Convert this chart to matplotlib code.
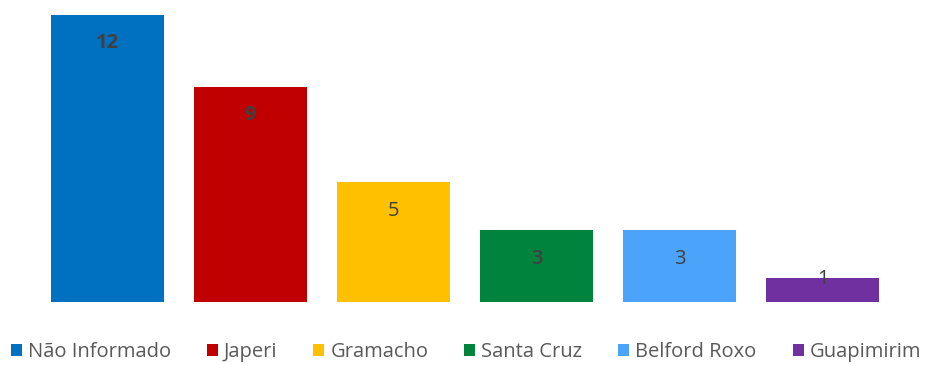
import matplotlib.pyplot as plt
from matplotlib.patches import Patch

plt.rcParams['font.family'] = ['Open Sans', 'DejaVu Sans']

bairros = ['Não Informado', 'Japeri', 'Gramacho', 'Santa Cruz', 'Belford Roxo', 'Guapimirim']
casos = [12, 9, 5, 3, 3, 1]
cores = ['#0070C0', '#C00000', '#FFC000', '#00843D', '#4BA3FA', '#7030A0']

fig = plt.figure(figsize=(9.32, 3.65), dpi=100)
ax = fig.add_axes([36 / 932, 63 / 365, 858 / 932, 287 / 365])

x = range(len(casos))
bars = ax.bar(x, casos, width=113 / 143, color=cores)
ax.set_xlim(-0.5, len(casos) - 0.5)
ax.set_ylim(0, 12)
ax.axis('off')

# rótulos dentro do topo de cada barra; na barra baixa fica sobre a borda
for i, (b, v) in enumerate(zip(bars, casos)):
    off = -20.5 if v >= 2 else -0.5
    peso = 'bold' if v >= 9 else ('semibold' if i == 3 else 'normal')
    ax.annotate(str(v), (b.get_x() + b.get_width() / 2, v), xytext=(0, off),
                textcoords='offset points', ha='center', va='center',
                fontsize=14.5, color='#404040', fontweight=peso)

handles = [Patch(facecolor=c, edgecolor='none') for c in cores]
fig.legend(handles, bairros, loc='center', bbox_to_anchor=(0.5, 0.035), ncol=6,
           frameon=False, fontsize=14.5, labelcolor='#595959', borderpad=0,
           handlelength=0.55, handleheight=0.55, handletextpad=0.3, columnspacing=1.78)

fig.savefig('out.png', dpi=100)
